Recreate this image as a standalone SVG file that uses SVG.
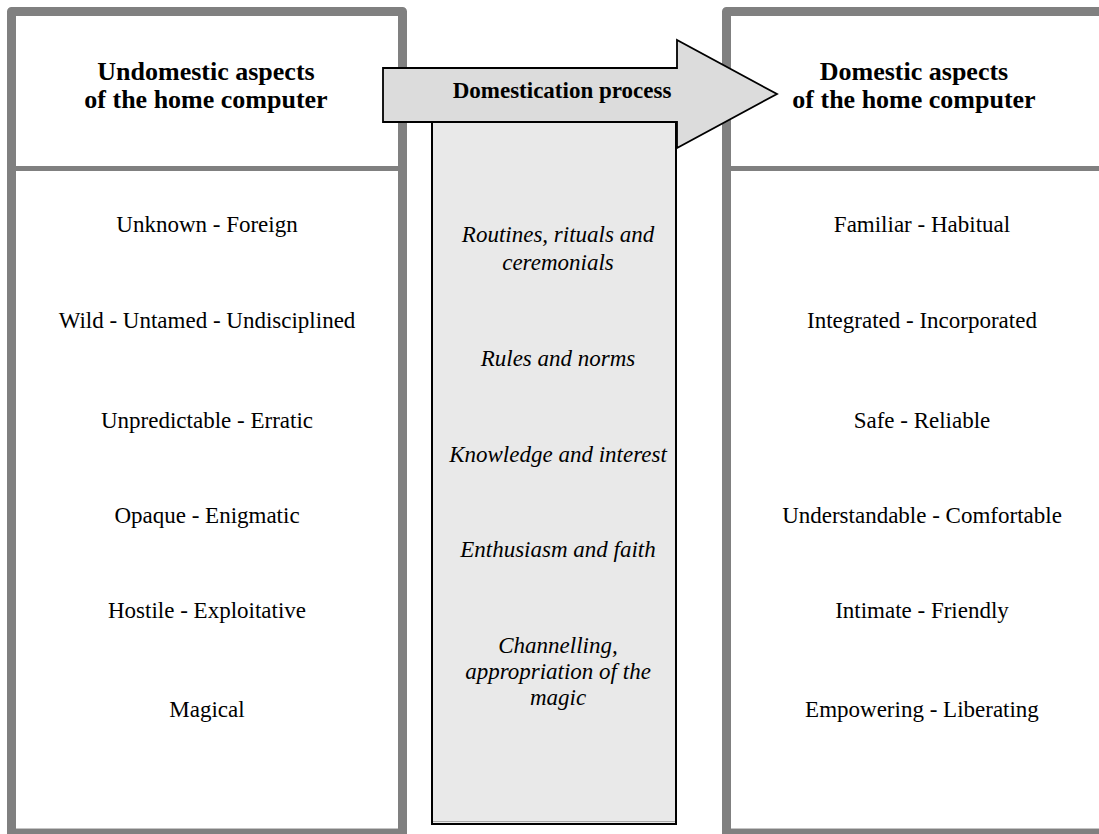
<svg xmlns="http://www.w3.org/2000/svg" width="1099" height="834" viewBox="0 0 1099 834">
  <style>
    .frame { fill: none; stroke: #808080; stroke-width: 9; stroke-linejoin: round; }
    .divider { stroke: #808080; stroke-width: 5; }
    .edge { stroke: #c4c4c4; stroke-width: 1; }
    .head { font-family: "Liberation Serif", "Times New Roman", serif; font-size: 26px; font-weight: bold; text-anchor: middle; fill: #000; }
    .item { font-family: "Liberation Serif", "Times New Roman", serif; font-size: 23px; text-anchor: middle; fill: #000; }
    .proc { font-family: "Liberation Serif", "Times New Roman", serif; font-size: 23px; font-style: italic; text-anchor: middle; fill: #000; }
    .arrowtext { font-family: "Liberation Serif", "Times New Roman", serif; font-size: 23px; font-weight: bold; text-anchor: middle; fill: #000; }
  </style>
  <rect x="0" y="0" width="1099" height="834" fill="#ffffff"/>

  <g id="undomestic">
    <rect class="frame" x="11.5" y="11.5" width="391" height="822"/>
    <line class="edge" x1="16" y1="828.5" x2="398" y2="828.5"/>
    <line class="divider" x1="16" y1="168.5" x2="398" y2="168.5"/>
    <text class="head" x="206" y="80">Undomestic aspects</text>
    <text class="head" x="206" y="108">of the home computer</text>
    <text class="item" x="207" y="232">Unknown - Foreign</text>
    <text class="item" x="207" y="328">Wild - Untamed - Undisciplined</text>
    <text class="item" x="207" y="428">Unpredictable - Erratic</text>
    <text class="item" x="207" y="523">Opaque - Enigmatic</text>
    <text class="item" x="207" y="618">Hostile - Exploitative</text>
    <text class="item" x="207" y="717">Magical</text>
  </g>

  <g id="domestic">
    <rect class="frame" x="726.5" y="11.5" width="400" height="822"/>
    <line class="edge" x1="731" y1="828.5" x2="1099" y2="828.5"/>
    <line class="divider" x1="731" y1="168.5" x2="1099" y2="168.5"/>
    <text class="head" x="914" y="80">Domestic aspects</text>
    <text class="head" x="914" y="108">of the home computer</text>
    <text class="item" x="922" y="232">Familiar - Habitual</text>
    <text class="item" x="922" y="328">Integrated - Incorporated</text>
    <text class="item" x="922" y="428">Safe - Reliable</text>
    <text class="item" x="922" y="523">Understandable - Comfortable</text>
    <text class="item" x="922" y="618">Intimate - Friendly</text>
    <text class="item" x="922" y="717">Empowering - Liberating</text>
  </g>

  <g id="process">
    <rect x="432" y="110" width="244" height="714" fill="#e9e9e9" stroke="#000" stroke-width="2"/>
    <line x1="433" y1="821.5" x2="675" y2="821.5" stroke="#a8a8a8" stroke-width="1"/>
    <text class="proc" x="558" y="242">Routines, rituals and</text>
    <text class="proc" x="558" y="270">ceremonials</text>
    <text class="proc" x="558" y="366">Rules and norms</text>
    <text class="proc" x="558" y="462">Knowledge and interest</text>
    <text class="proc" x="558" y="557">Enthusiasm and faith</text>
    <text class="proc" x="558" y="653">Channelling,</text>
    <text class="proc" x="558" y="679">appropriation of the</text>
    <text class="proc" x="558" y="705">magic</text>
  </g>

  <g id="connectors">
    <g id="domestication-arrow">
      <polygon points="383,68 677,68 677,40 777,94 677,148 677,122 383,122" fill="#dcdcdc" stroke="#000" stroke-width="1.8" stroke-linejoin="miter"/>
      <text class="arrowtext" x="562" y="98">Domestication process</text>
    </g>
  </g>
</svg>
